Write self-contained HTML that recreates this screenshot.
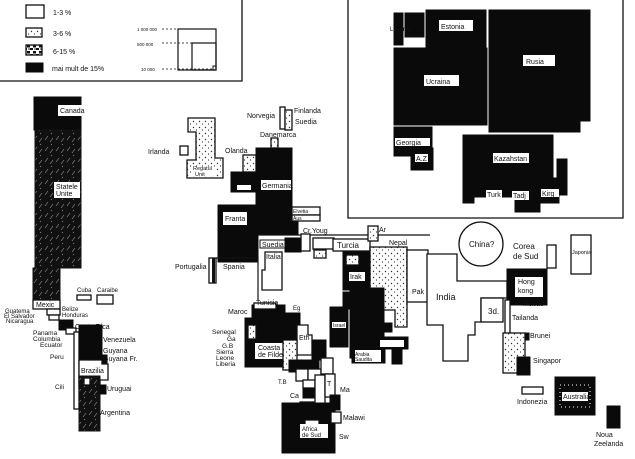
<!DOCTYPE html>
<html><head><meta charset="utf-8"><style>
html,body{margin:0;padding:0;background:#fff;}
svg{display:block;}
text{font-family:"Liberation Sans",sans-serif;font-size:7px;fill:#111;}
.w{fill:#fff;stroke:#111;stroke-width:1.3;}
.b{fill:#0a0a0a;stroke:#0a0a0a;}
.d{fill:url(#dots);stroke:#111;stroke-width:1.3;}
.h{fill:url(#heavy);stroke:#111;stroke-width:1.3;}
.l{fill:#fff;}
</style></head><body>
<svg width="635" height="459" viewBox="0 0 635 459" xmlns="http://www.w3.org/2000/svg">
<defs>
<pattern id="dots" width="6" height="6" patternUnits="userSpaceOnUse"><rect width="6" height="6" fill="#fff"/><circle cx="1.5" cy="1.5" r="0.7" fill="#333"/><circle cx="4.5" cy="4" r="0.6" fill="#333"/></pattern>
<pattern id="heavy" width="6" height="6" patternUnits="userSpaceOnUse"><rect width="6" height="6" fill="#fff"/><rect x="0" y="0" width="3" height="2" fill="#111"/><rect x="3" y="3" width="3" height="2.5" fill="#111"/><circle cx="5" cy="1" r="0.8" fill="#111"/></pattern>
<pattern id="usa" width="11" height="11" patternUnits="userSpaceOnUse"><rect width="11" height="11" fill="#111"/><path d="M1 8 L4 4 M6 10 L9 6 M7 2 L8 1" stroke="#999" stroke-width="0.6"/></pattern>
</defs>
<!-- legend -->
<path d="M0 81 L242 81 L242 0" fill="none" stroke="#111" stroke-width="1.3"/>
<rect x="26" y="5" width="18" height="13" class="w"/><text x="53" y="15">1-3 %</text>
<rect x="26" y="28" width="16" height="9" class="d"/><text x="53" y="36">3-6 %</text>
<rect x="26" y="45" width="16" height="10" class="h"/><text x="53" y="54">6-15 %</text>
<rect x="26" y="63" width="17" height="9" class="b"/><text x="52" y="71">mai mult de 15%</text>
<rect x="178" y="29" width="38" height="41" fill="none" stroke="#111" stroke-width="1.2"/>
<rect x="192" y="43" width="24" height="27" fill="none" stroke="#111" stroke-width="1.2"/>
<rect x="213" y="66" width="3" height="4" fill="none" stroke="#111"/>
<path d="M162 29H178 M162 43H192 M162 69H213" stroke="#111" stroke-dasharray="2,2" stroke-width="0.8"/>
<text x="137" y="31" style="font-size:4.5px">1 000 000</text><text x="137" y="46" style="font-size:4.5px">500 000</text><text x="141" y="71" style="font-size:4.5px">10 000</text>
<!-- inset box -->
<path d="M348 0 L348 218 L623 218 L623 0" fill="none" stroke="#111" stroke-width="1.3"/>
<rect x="394" y="13" width="9" height="32" class="b"/>
<rect x="405" y="13" width="19" height="24" class="b"/>
<rect x="426" y="10" width="60" height="37" class="b"/>
<path d="M489 10 L590 10 L590 121 L580 121 L580 132 L489 132 Z" class="b"/>
<rect x="394" y="48" width="93" height="77" class="b"/>
<rect x="394" y="127" width="38" height="29" class="b"/>
<rect x="411" y="148" width="22" height="22" class="b"/>
<path d="M463 135 L553 135 L553 178 L559 178 L559 203 L540 203 L540 212 L515 212 L515 197 L474 197 L474 203 L463 203 Z" class="b"/>
<rect x="557" y="159" width="10" height="36" class="b"/>
<text x="390" y="31" style="font-size:6px">Lituania</text>
<rect x="439" y="20" width="34" height="11" class="l"/><text x="441" y="29">Estonia</text>
<rect x="523" y="55" width="32" height="11" class="l"/><text x="526" y="64">Rusia</text>
<rect x="424" y="75" width="35" height="11" class="l"/><text x="426" y="84">Ucraina</text>
<rect x="395" y="138" width="35" height="8" class="l"/><text x="396" y="145">Georgia</text>
<rect x="415" y="154" width="13" height="8" class="l"/><text x="416" y="161">A.Z</text>
<rect x="493" y="153" width="36" height="10" class="l"/><text x="494" y="161">Kazahstan</text>
<rect x="486" y="190" width="16" height="8" class="l"/><text x="487" y="197">Turk</text>
<rect x="512" y="191" width="17" height="9" class="l"/><text x="513" y="198">Tadj</text>
<rect x="541" y="189" width="18" height="8" class="l"/><text x="542" y="196">Kirg</text>
<!-- North America -->
<rect x="34" y="97" width="47" height="33" class="b"/>
<rect x="35" y="130" width="46" height="138" fill="url(#usa)" stroke="#111"/>
<rect x="58" y="105" width="28" height="11" class="l"/><text x="60" y="113">Canada</text>
<rect x="54" y="182" width="26" height="16" class="l"/><text x="56" y="189">Statele</text><text x="56" y="196">Unite</text>
<rect x="33" y="268" width="27" height="40" fill="url(#usa)" stroke="#111"/>
<rect x="33" y="300" width="27" height="9" class="w"/><text x="36" y="307">Mexic</text>
<rect x="47" y="309" width="13" height="6" class="w"/><rect x="49" y="315" width="10" height="5" class="w"/>
<rect x="59" y="320" width="14" height="10" class="b"/>
<rect x="66" y="328" width="10" height="6" class="w"/>
<text x="5" y="313" style="font-size:6px">Guatema</text><text x="4" y="318" style="font-size:6px">El Salvador</text><text x="6" y="323" style="font-size:6px">Nicaragua</text>
<text x="62" y="311" style="font-size:6px">Belize</text><text x="62" y="317" style="font-size:6px">Honduras</text>
<text x="75" y="329">Costa-Rica</text>
<rect x="77" y="295" width="14" height="5" class="w"/><rect x="97" y="295" width="16" height="9" class="w"/>
<text x="77" y="292" style="font-size:6px">Cuba</text><text x="97" y="292" style="font-size:6px">Caraibe</text>
<!-- South America -->
<rect x="74" y="332" width="5" height="77" class="w"/>
<rect x="79" y="325" width="23" height="35" class="b"/>
<rect x="102" y="355" width="5" height="8" class="b"/>
<path d="M79 360 L102 360 L102 364 L108 364 L108 380 L100 380 L100 387 L79 387 Z" class="w"/>
<rect x="79" y="376" width="21" height="55" fill="url(#usa)" stroke="#111"/>
<rect x="84" y="378" width="6" height="7" class="w"/>
<rect x="100" y="385" width="6" height="9" class="b"/>
<rect x="80" y="366" width="26" height="8" class="l"/><text x="81" y="373">Brazilia</text>
<text x="33" y="335" style="font-size:6.5px">Panama</text><text x="33" y="341" style="font-size:6.5px">Columbia</text><text x="40" y="347" style="font-size:6.5px">Ecuator</text><text x="50" y="359" style="font-size:6.5px">Peru</text><text x="55" y="389" style="font-size:6.5px">Cili</text>
<text x="103" y="342">Venezuela</text><text x="103" y="353">Guyana</text><text x="103" y="361">Guyana Fr.</text><text x="107" y="391">Uruguai</text><text x="100" y="415">Argentina</text>
<!-- Europe -->
<path d="M188 118 L215 118 L215 158 L223 158 L223 178 L187 178 L187 160 L196 160 L196 132 L188 132 Z" class="d"/>
<rect x="192" y="167" width="24" height="9" class="l"/><text x="193" y="170" style="font-size:5.5px">Regatul</text><text x="195" y="176" style="font-size:5.5px">Unit</text>
<rect x="180" y="146" width="8" height="9" class="w"/><text x="148" y="154">Irlanda</text>
<rect x="280" y="107" width="5" height="22" class="w"/><rect x="285" y="110" width="7" height="20" class="d"/>
<text x="247" y="118">Norvegia</text><text x="294" y="113">Finlanda</text><text x="295" y="124">Suedia</text>
<rect x="271" y="138" width="7" height="10" class="d"/><text x="260" y="137">Danemarca</text>
<rect x="243" y="155" width="13" height="17" class="d"/><text x="225" y="153">Olanda</text>
<rect x="256" y="148" width="36" height="85" class="b"/>
<rect x="231" y="172" width="25" height="20" class="b"/>
<rect x="237" y="185" width="14" height="5" class="l"/>
<rect x="261" y="180" width="30" height="10" class="l"/><text x="262" y="188">Germania</text>
<rect x="218" y="205" width="40" height="57" class="b"/>
<rect x="258" y="215" width="40" height="20" class="b"/>
<rect x="223" y="212" width="24" height="13" class="l"/><text x="225" y="221">Franta</text>
<rect x="292" y="207" width="28" height="8" class="w"/><rect x="292" y="215" width="28" height="6" class="w"/>
<text x="293" y="213" style="font-size:5px">Elvetia</text><text x="293" y="220" style="font-size:5px">Aus</text>
<path d="M258 235 L430 235" stroke="#111" stroke-width="1.2"/>
<rect x="260" y="240" width="25" height="8" class="l" stroke="#111"/><text x="262" y="247">Suedia</text>
<rect x="285" y="238" width="16" height="14" class="b"/>
<rect x="301" y="234" width="9" height="17" class="w"/>
<rect x="313" y="238" width="21" height="11" class="w"/>
<rect x="314" y="250" width="12" height="8" class="d"/>
<text x="303" y="233">Cr.Youg</text>
<rect x="333" y="239" width="37" height="12" class="w"/><text x="337" y="248" style="font-size:8px">Turcia</text>
<path d="M265 252 L282 252 L282 290 L262 290 L262 270 L265 270 Z" class="w"/><text x="266" y="259">Italia</text>
<path d="M216 258 L258 258 L258 300" fill="none" stroke="#111" stroke-width="1.2"/>
<rect x="209" y="258" width="7" height="25" class="w"/><rect x="212" y="258" width="3" height="25" fill="#111"/>
<text x="175" y="269">Portugalia</text><text x="223" y="269">Spania</text>
<!-- Middle East & Asia -->
<rect x="368" y="226" width="10" height="15" class="d"/><text x="379" y="232">Ar</text>
<path d="M370 247 L407 247 L407 327 L395 327 L395 310 L380 310 L380 290 L370 290 Z" class="d"/>
<text x="389" y="245">Nepal</text>
<rect x="343" y="252" width="27" height="38" class="b"/><rect x="346" y="255" width="13" height="10" class="d"/>
<rect x="349" y="272" width="16" height="9" class="l"/><text x="350" y="279">Irak</text>
<rect x="407" y="250" width="21" height="52" class="w"/><text x="412" y="294">Pak</text>
<path d="M427 254 L457 254 L457 281 L507 281 L507 298 L481 298 L481 322 L475 322 L475 335 L468 335 L468 361 L443 361 L443 325 L427 325 Z" class="w"/>
<text x="436" y="300" style="font-size:9px">India</text>
<circle cx="481" cy="244" r="22" class="w"/><text x="469" y="247" style="font-size:8px">China?</text>
<rect x="481" y="298" width="22" height="24" class="w"/><text x="488" y="314" style="font-size:8px">3d.</text>
<text x="513" y="249" style="font-size:8px">Corea</text><text x="513" y="259" style="font-size:8px">de Sud</text>
<rect x="547" y="245" width="9" height="23" class="w"/>
<rect x="571" y="235" width="20" height="39" class="w"/><text x="572" y="254" style="font-size:5.5px">Japonia</text>
<rect x="507" y="269" width="40" height="36" class="b"/>
<rect x="515" y="277" width="28" height="20" class="l"/><text x="518" y="284">Hong</text><text x="518" y="293">kong</text>
<rect x="505" y="300" width="5" height="35" class="w"/>
<text x="523" y="306">Macao</text><text x="512" y="320">Tailanda</text>
<rect x="503" y="333" width="22" height="40" class="d"/><rect x="525" y="333" width="4" height="7" class="b"/>
<rect x="517" y="357" width="13" height="18" class="b"/>
<text x="530" y="338">Brunei</text><text x="533" y="363">Singapor</text>
<rect x="522" y="387" width="21" height="7" class="w"/><text x="517" y="404">Indonezia</text>
<rect x="555" y="377" width="40" height="38" class="b"/><rect x="560" y="385" width="30" height="22" fill="none" stroke="#fff" stroke-dasharray="1,3"/>
<rect x="562" y="392" width="26" height="9" class="l"/><text x="563" y="399">Australia</text>
<rect x="607" y="406" width="13" height="22" class="b"/>
<text x="596" y="437">Noua</text><text x="594" y="446">Zeelanda</text>
<!-- Arabia/Israel -->
<rect x="330" y="307" width="18" height="40" class="b"/><rect x="332" y="322" width="14" height="6" class="l"/><text x="333" y="327" style="font-size:5px">Israel</text>
<rect x="350" y="288" width="20" height="70" class="b"/>
<rect x="370" y="288" width="14" height="50" class="b"/>
<rect x="343" y="292" width="13" height="17" class="b"/>
<rect x="384" y="323" width="8" height="9" class="b"/>
<rect x="368" y="337" width="40" height="12" class="b"/><rect x="380" y="340" width="24" height="7" class="l"/>
<rect x="352" y="348" width="33" height="15" class="b"/><rect x="355" y="350" width="26" height="12" class="l"/><text x="355" y="356" style="font-size:5px">Arabia</text><text x="355" y="361" style="font-size:5px">Saudita</text>
<rect x="392" y="350" width="10" height="14" class="b"/>
<!-- Africa -->
<path d="M252 305 L285 305 L285 313 L300 313 L300 340 L287 340 L287 367 L245 367 L245 318 L252 318 Z" class="b"/>
<rect x="254" y="303" width="22" height="6" class="w"/>
<rect x="248" y="325" width="8" height="14" class="d"/>
<rect x="255" y="343" width="28" height="16" class="l"/><text x="258" y="350">Coasta</text><text x="258" y="357">de Fildes</text>
<text x="256" y="305">Tunisia</text><text x="228" y="314">Maroc</text><text x="293" y="310" style="font-size:6px">Eg</text>
<text x="212" y="334" style="font-size:6.5px">Senegal</text><text x="227" y="341" style="font-size:6.5px">Ga</text><text x="222" y="348" style="font-size:6.5px">G.B</text><text x="216" y="354" style="font-size:6.5px">Sierra</text><text x="216" y="360" style="font-size:6.5px">Leone</text><text x="216" y="366" style="font-size:6.5px">Liberia</text>
<path d="M297 325 L308 325 L308 335 L312 335 L312 355 L297 355 Z" class="w"/><text x="299" y="340">Eth</text>
<rect x="312" y="340" width="14" height="20" class="b"/>
<rect x="283" y="340" width="14" height="30" class="d"/>
<rect x="289" y="360" width="30" height="12" class="b"/>
<rect x="296" y="369" width="12" height="12" class="w"/><rect x="308" y="369" width="13" height="12" class="w"/><rect x="321" y="358" width="12" height="16" class="w"/>
<rect x="303" y="380" width="12" height="8" class="w"/><rect x="303" y="388" width="13" height="10" class="b"/>
<rect x="315" y="375" width="10" height="30" class="w"/><rect x="325" y="374" width="10" height="23" class="w"/>
<rect x="300" y="402" width="14" height="10" class="w"/><rect x="315" y="405" width="17" height="9" class="w"/>
<rect x="282" y="403" width="53" height="50" class="b"/><rect x="305" y="420" width="14" height="10" class="w"/>
<rect x="330" y="395" width="10" height="15" class="b"/>
<rect x="331" y="412" width="10" height="11" class="w"/>
<rect x="300" y="424" width="28" height="14" class="l"/><text x="302" y="431" style="font-size:6px">Africa</text><text x="302" y="437" style="font-size:6px">de Sud</text>
<text x="278" y="384" style="font-size:6px">T.B</text><text x="290" y="398">Ca</text><text x="327" y="386">T</text>
<text x="340" y="392">Ma</text><text x="343" y="420">Malawi</text><text x="339" y="439">Sw</text>
</svg>
</body></html>
